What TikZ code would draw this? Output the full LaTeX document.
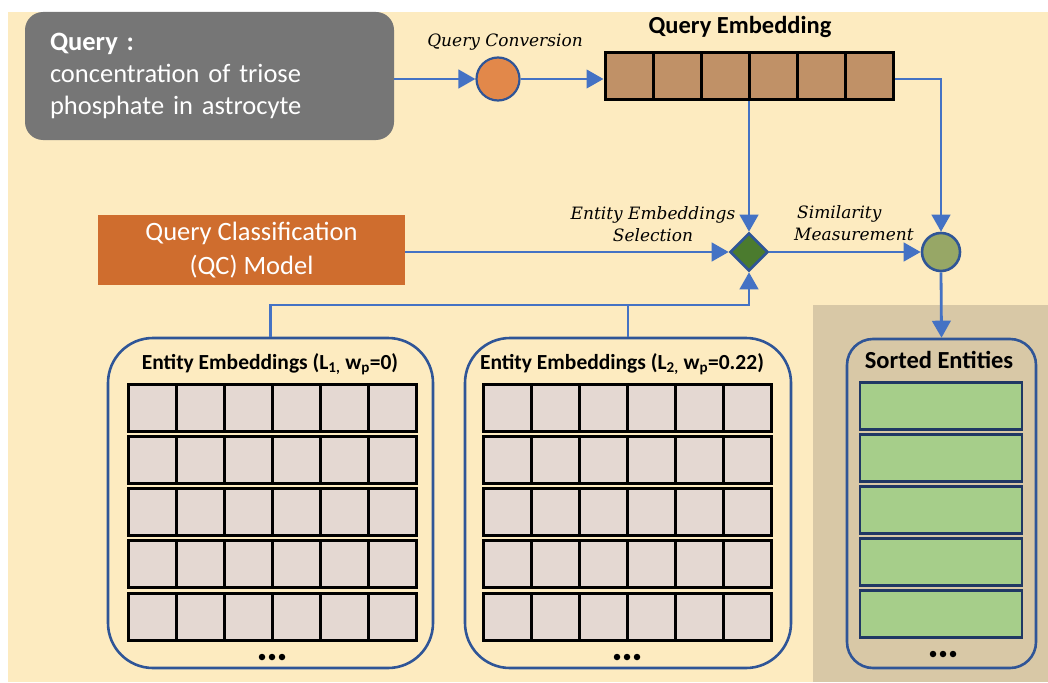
\documentclass[tikz,border=0pt]{standalone}
\usepackage{fontspec}
\setmainfont{Carlito}
\newfontfamily\labfont{DejaVu Serif}
\usetikzlibrary{arrows.meta,shapes.geometric}
\definecolor{bgc}{HTML}{FDEBC0}
\definecolor{qgray}{HTML}{767676}
\definecolor{lblue}{HTML}{4472C4}
\definecolor{dblue}{HTML}{2F5597}
\definecolor{orng}{HTML}{E2884A}
\definecolor{brownc}{HTML}{C09167}
\definecolor{qcorange}{HTML}{CF6D2E}
\definecolor{dgreen}{HTML}{4B7B2E}
\definecolor{olivec}{HTML}{97A766}
\definecolor{cellc}{HTML}{E4D8D2}
\definecolor{tanc}{HTML}{D8C8A6}
\definecolor{rowgreen}{HTML}{A6CE8A}
\definecolor{navyc}{HTML}{203864}
\tikzset{
  conn/.style={draw=lblue, line width=2.8pt},
  arr/.style={conn, -{Triangle[length=17pt 0 0,width=18.5pt 0 0]}},
  cellbox/.style={draw=black, line width=3pt, fill=cellc},
  cellline/.style={draw=black, line width=3pt},
  holder/.style={draw=dblue, line width=2.6pt, rectangle, inner sep=0pt},
  itlab/.style={font=\labfont\itshape\fontsize{17}{22}\selectfont, align=center, inner sep=0pt},
  boldtitle/.style={font=\bfseries\fontsize{21.5}{24}\selectfont, inner sep=0pt},
  dotmark/.style={fill=black, circle, inner sep=0pt, minimum size=6.5pt}
}
\begin{document}
\begin{tikzpicture}[x=1pt,y=-1pt]
\useasboundingbox (0,0) rectangle (1048,682);
\fill[bgc] (8,12) rectangle (1048,682);
\fill[tanc] (813,305) rectangle (1048,682);

% query box
\node[fill=qgray, rounded corners=18pt, minimum width=369pt, minimum height=128pt,
      inner xsep=25pt, text width=319pt, align=left, text=white,
      font=\fontsize{26.5}{32}\selectfont] (query) at (209.5,76)
  {{\bfseries Query :}\\concentration of triose\\phosphate in astrocyte};

% conversion circle
\node[circle, fill=orng, draw=dblue, line width=2.2pt, minimum size=43pt, inner sep=0pt] (conv) at (498,79) {};
\node[itlab] (convlab) at (505,42) {Query Conversion};

% query embedding
\node[draw=black, line width=3pt, fill=brownc, minimum width=288pt, minimum height=47pt, inner sep=0pt] (emb) at (749,76.5) {};
\foreach \c in {1,...,5} \draw[cellline] (605+\c*48,53) -- (605+\c*48,100);
\node[font=\bfseries\fontsize{24.5}{26}\selectfont, inner sep=0pt] (embtitle) at (740,27) {Query Embedding};

% QC model
\node[fill=qcorange, minimum width=307pt, minimum height=70pt, inner sep=0pt, text=white,
      align=center, font=\fontsize{26.5}{34}\selectfont] (qc) at (251.5,250)
  {Query Classification\\(QC) Model};

% selection diamond and similarity circle
\node[diamond, fill=dgreen, draw=dblue, line width=2.6pt, minimum width=38pt, minimum height=38pt, inner sep=0pt] (sel) at (749,252) {};
\node[circle, fill=olivec, draw=dblue, line width=2.6pt, minimum size=38pt, inner sep=0pt] (sim) at (941,252) {};
\node[itlab] (sellab) at (653,224) {Entity Embeddings\\Selection};
\node[itlab, align=left, anchor=west] (simlab) at (794,223) {\hspace*{3pt}Similarity\\Measurement};

% entity embedding holders
\node[holder, rounded corners=45pt, minimum width=325pt, minimum height=330pt] (ent1) at (270.5,503) {};
\node[holder, rounded corners=45pt, minimum width=326pt, minimum height=330pt] (ent2) at (628,503) {};
\node[boldtitle] (t1) at (270,364) {Entity Embeddings (L\textsubscript{1,} w\textsubscript{p}=0)};
\node[boldtitle] (t2) at (622,364) {Entity Embeddings (L\textsubscript{2,} w\textsubscript{p}=0.22)};
\foreach \bx in {128,483} {
  \foreach \r in {0,...,4} {
    \draw[cellbox] (\bx,384+\r*52.25) rectangle ++(288,47);
    \foreach \c in {1,...,5} \draw[cellline] (\bx+\c*48,384+\r*52.25) -- ++(0,47);
  }
}
\foreach \cx in {272,627} {
  \foreach \d in {-10,0,10} \node[dotmark] at (\cx+\d,657) {};
}

% sorted entities
\node[holder, rounded corners=26pt, minimum width=189pt, minimum height=329pt] (sorted) at (941.5,503.5) {};
\node[boldtitle, font=\bfseries\fontsize{24.5}{26}\selectfont] (t3) at (939,360) {Sorted Entities};
\foreach \r in {0,...,4}
  \draw[draw=navyc, line width=2.8pt, fill=rowgreen] (860,382.5+\r*51.9) rectangle ++(162,47);
\foreach \d in {-10,0,10} \node[dotmark] at (943+\d,654) {};

% connectors
\coordinate (join) at (749,305);
\draw[arr] (query.east |- conv.west) -- (conv.west);
\draw[arr] (conv.east) -- (emb.west |- conv.east);
\draw[arr] (emb.east |- conv.east) -| (sim.north);
\draw[arr] (emb.south) -- (sel.north);
\draw[arr] (qc.east |- sel.west) -- (sel.west);
\draw[arr] (sel.east) -- (sim.west);
\draw[arr] (sim.south) -- (sorted.north);
\draw[arr] (ent1.north) |- (join) -- (sel.south);
\draw[conn] (ent2.north) -- (ent2.north |- join);
\end{tikzpicture}
\end{document}
